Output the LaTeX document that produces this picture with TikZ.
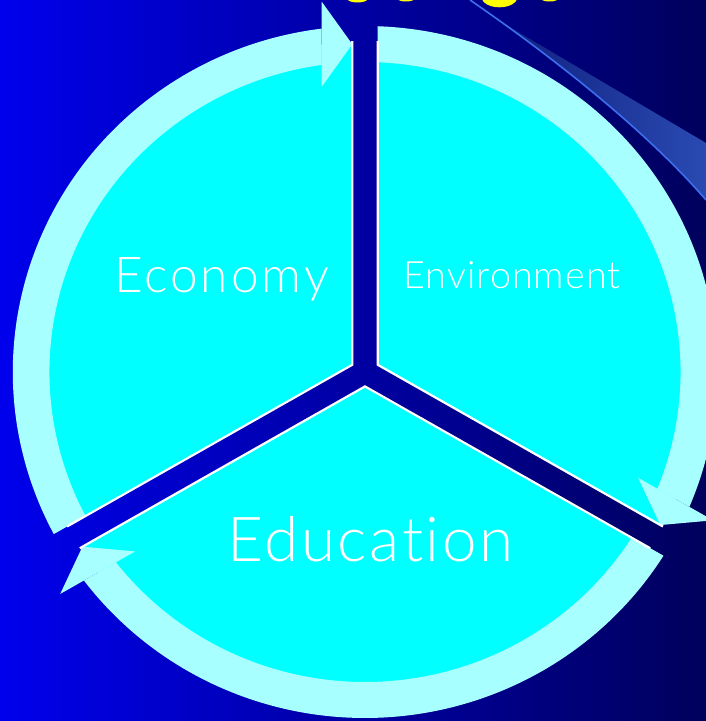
\documentclass[tikz,border=0pt]{standalone}
\usepackage{fontspec}
\newfontfamily\thinfont[Ligatures={NoCommon,NoDiscretionary}]{Lato Light}
\definecolor{bgleft}{RGB}{0,0,236}
\definecolor{bgmid}{RGB}{0,0,188}
\definecolor{bgright}{RGB}{0,0,92}
\definecolor{bandcol}{RGB}{168,255,255}
\definecolor{fillcol}{RGB}{0,255,255}
\definecolor{streak}{RGB}{62,110,240}
\definecolor{wedgel}{RGB}{12,26,120}
\definecolor{wedger}{RGB}{42,74,178}
\definecolor{titleyel}{RGB}{255,255,0}
\tikzset{
  band/.style={fill=bandcol},
  inner/.style={fill=fillcol},
  edge/.style={draw=white, line width=2.2pt, line join=miter},
  label/.style={text=white, inner sep=0pt, anchor=base, font=\thinfont}
}
\begin{document}
\begin{tikzpicture}[x=1pt,y=1pt]
\useasboundingbox (0,0) rectangle (706,721);
\shade[left color=bgleft, middle color=bgmid, right color=bgright] (0,0) rectangle (706,721);
% title fragments
\fill[titleyel] (357.5,722) ellipse[x radius=10, y radius=3.5];
\fill[titleyel] (406,722) ellipse[x radius=8, y radius=2.5];
\fill[titleyel] (499.5,724) ellipse[x radius=18, y radius=10.3];
\fill[titleyel] (549.5,722) ellipse[x radius=8, y radius=2.5];
% light streak
\shade[left color=wedgel, right color=wedger] (470,721) .. controls (560,659) and (650,586) .. (706,521) -- (706,578) -- (513,692) -- cycle;
\draw[streak, line width=1.6pt] (470,721) .. controls (560,659) and (650,586) .. (706,521);
% cycle
\begin{scope}[shift={(365,349)}, xscale=1.018]
\foreach \t in {90,-30,210}{
  \begin{scope}[rotate=\t]
    \path[inner] (60:14.43) -- (2.17:330) arc[start angle=2.17, end angle=117.83, radius=330] -- cycle;
    \path[band] (7.06:346) arc[start angle=7.06, end angle=117.93, radius=346] -- (117.69:310) arc[start angle=117.69, end angle=7.88, radius=310] -- cycle;
    \path[band] (285.26,42.5) -- (327.76,12.5) -- (370.26,42.5) -- cycle;
    \draw[edge] (2.17:331) -- (60:14.43) -- (117.83:331);
  \end{scope}
}
\end{scope}
\node[label, font=\thinfont\fontsize{49.5}{50}\selectfont\addfontfeature{LetterSpace=6}] (econ) at (221.5,428) {Economy};
\node[label, font=\thinfont\fontsize{37.7}{38}\selectfont\addfontfeature{LetterSpace=2.8}] (env) at (512,432) {Environment};
\node[label, font=\thinfont\fontsize{62}{62}\selectfont\addfontfeature{LetterSpace=4.2}] (edu) at (370.5,159.3) {Education};
\end{tikzpicture}
\end{document}
